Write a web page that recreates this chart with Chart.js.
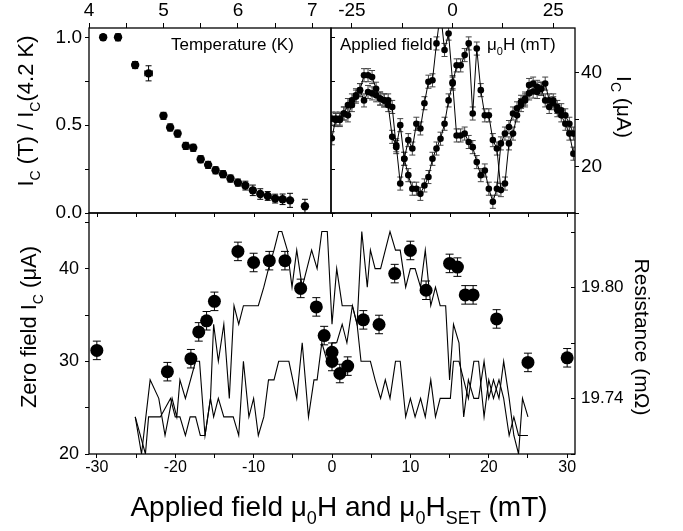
<!DOCTYPE html>
<html>
<head>
<meta charset="utf-8">
<script src="https://cdn.jsdelivr.net/npm/chart.js@4.4.0/dist/chart.umd.min.js"></script>
<style>
  html, body { margin: 0; padding: 0; background: #fff; }
  #wrap { position: relative; width: 683px; height: 531px; overflow: hidden; }
  #wrap canvas { position: absolute; left: 0; top: 0; }
</style>
</head>
<body>
<div id="wrap">
  <canvas id="tempChart" width="683" height="531"></canvas>
  <canvas id="fieldChart" width="683" height="531"></canvas>
  <canvas id="setChart" width="683" height="531"></canvas>
</div>
<script>
// Ic(T) / Ic(4.2 K)
const tempK = [4.19, 4.39, 4.62, 4.80, 5.00, 5.09, 5.19, 5.30, 5.40, 5.50, 5.60, 5.70, 5.80, 5.90, 6.00, 6.10, 6.20, 6.30, 6.40, 6.50, 6.60, 6.70, 6.90];
const icRatio = [1.0, 1.0, 0.842, 0.795, 0.553, 0.487, 0.452, 0.382, 0.371, 0.306, 0.274, 0.243, 0.221, 0.196, 0.173, 0.156, 0.129, 0.108, 0.097, 0.082, 0.078, 0.072, 0.038];
const icRatioErr = [0.015, 0.02, 0.02, 0.043, 0.02, 0.02, 0.02, 0.02, 0.02, 0.02, 0.02, 0.02, 0.02, 0.02, 0.02, 0.025, 0.03, 0.03, 0.025, 0.025, 0.03, 0.04, 0.04];
const tempErr = [0, 0, 0, 0.05, 0, 0, 0, 0, 0, 0, 0, 0, 0, 0, 0, 0, 0, 0, 0, 0, 0, 0, 0];

// Ic vs applied field, two sweep directions
const fieldH = [-30, -29, -28, -27, -26, -25, -24, -23, -22, -21, -20, -19, -18, -17, -16, -15, -14, -13, -12, -11,
  -10, -9, -8, -7, -6, -5, -4, -3, -2, -1, 0, 1, 2, 3, 4, 5, 6, 7, 8, 9,
  10, 11, 12, 13, 14, 15, 16, 17, 18, 19, 20, 21, 22, 23, 24, 25, 26, 27, 28, 29, 30];
const icSweepA = [26.0, 30.2, 29.9, 31.3, 30.9, 33.1, 34.9, 36.3, 34.1, 35.9, 35.6, 35.2, 34.5, 34.1, 33.1, 26.3, 24.5, 16.3, 21.6, 25.6,
  23.8, 29.1, 28.1, 33.5, 38.1, 38.4, 46.3, 53.0, 44.9, 48.4, 38.0, 26.6, 26.6, 27.0, 25.2, 24.1, 20.9, 18.1, 19.1, 15.2,
  12.4, 15.2, 24.9, 27.0, 28.4, 31.3, 32.4, 33.8, 34.5, 35.6, 36.0, 35.9, 36.6, 34.1, 32.7, 33.5, 32.0, 30.9, 29.1, 27.0, 22.7];
const icSweepB = [30.2, 29.9, 30.2, 31.3, 33.1, 34.1, 35.2, 36.3, 39.5, 39.5, 39.1, 36.6, 34.5, 34.1, 34.1, 32.7, 24.1, 28.8, 21.6, 18.1,
  15.2, 15.2, 14.1, 15.9, 17.7, 21.6, 23.8, 25.9, 29.1, 34.1, 37.7, 41.6, 41.6, 43.8, 46.3, 31.3, 45.2, 36.3, 30.9, 30.9,
  25.6, 23.8, 14.9, 16.3, 24.9, 27.0, 30.9, 33.1, 34.1, 37.4, 37.7, 37.0, 36.6, 37.7, 34.1, 34.1, 32.7, 32.0, 30.9, 29.1, 27.0];
const icSweepErr = 1.4;

// zero field Ic after setting H_SET
const setField = [-30, -21, -18, -17, -16, -15, -12, -10, -8, -6, -4, -2, -1, 0, 0, 1, 2, 4, 6, 8, 10, 12, 15, 16, 17, 18, 21, 25, 30];
const zeroIc = [31.2, 28.9, 30.3, 33.2, 34.4, 36.5, 41.9, 40.7, 40.9, 40.9, 37.9, 35.9, 32.8, 31.0, 30.0, 28.7, 29.5, 34.5, 34.0, 39.5, 42.0, 37.7, 40.6, 40.2, 37.2, 37.2, 34.6, 29.9, 30.4];
const zeroIcErr = 1.0;

// resistance traces (mOhm)
const resFieldUp = [-25.1, -24.3, -23.2, -22.1, -21.3, -20.4, -19.8, -19.4, -18.7, -17.4, -16.9, -16.2, -15.5, -15.1, -14.5, -13.8, -13.1, -12.5, -11.9, -11.3,
  -9.4, -8.7, -8.1, -7.4, -6.8, -6.4, -5.7, -5.1, -4.5, -3.8, -3.2, -2.6, -1.9, -1.3, -0.6, 0, 0.6, 1.3, 2.6, 3.2,
  3.8, 4.5, 4.9, 5.5, 6.2, 7.4, 8.1, 8.7, 9.4, 10.0, 10.6, 11.3, 11.9, 12.6, 13.2, 13.8, 14.5, 15.0, 15.5, 16.2,
  16.8, 17.4, 18.1, 18.7, 19.4, 20.0, 20.6, 21.3, 21.9, 22.6, 23.2, 23.8, 24.3, 25.0];
const resUp = [19.73, 19.71, 19.75, 19.74, 19.72, 19.74, 19.73, 19.75, 19.74, 19.76, 19.76, 19.72, 19.74, 19.78, 19.76, 19.78, 19.74, 19.79, 19.78, 19.79,
  19.79, 19.80, 19.81, 19.82, 19.83, 19.83, 19.82, 19.80, 19.82, 19.80, 19.81, 19.82, 19.81, 19.83, 19.83, 19.78, 19.81, 19.79, 19.79, 19.78,
  19.83, 19.80, 19.82, 19.81, 19.81, 19.83, 19.82, 19.82, 19.80, 19.81, 19.81, 19.80, 19.82, 19.79, 19.80, 19.79, 19.79, 19.75, 19.78, 19.77,
  19.73, 19.75, 19.74, 19.74, 19.76, 19.74, 19.75, 19.74, 19.76, 19.74, 19.72, 19.71, 19.74, 19.73];
const resFieldDown = [-25.1, -23.8, -23.4, -21.9, -20.6, -20.0, -19.4, -18.7, -18.1, -17.4, -16.8, -16.2, -15.5, -15.1, -14.5, -13.8, -12.6, -11.9, -11.3, -10.6,
  -10.0, -9.4, -8.7, -8.1, -7.4, -6.8, -5.5, -4.5, -3.8, -3.0, -2.3, -1.9, -1.3, -0.6, 0, 0.6, 1.3, 1.9, 2.6, 3.2,
  3.7, 4.9, 5.5, 6.2, 6.8, 7.4, 8.1, 8.7, 9.4, 10.0, 10.6, 11.3, 11.9, 12.6, 13.2, 13.8, 14.5, 15.1, 15.5, 16.2,
  16.8, 17.4, 18.1, 18.7, 19.4, 20.0, 20.6, 21.3, 21.9, 22.6, 23.2, 23.8, 25.0];
const resDown = [19.73, 19.71, 19.73, 19.73, 19.74, 19.73, 19.73, 19.72, 19.73, 19.73, 19.72, 19.72, 19.74, 19.73, 19.74, 19.73, 19.73, 19.72, 19.76, 19.73,
  19.74, 19.72, 19.73, 19.75, 19.75, 19.76, 19.76, 19.74, 19.77, 19.73, 19.75, 19.75, 19.77, 19.76, 19.77, 19.77, 19.78, 19.77, 19.79, 19.78,
  19.76, 19.76, 19.75, 19.74, 19.75, 19.74, 19.76, 19.76, 19.73, 19.74, 19.73, 19.74, 19.73, 19.75, 19.73, 19.74, 19.74, 19.74, 19.76, 19.76,
  19.75, 19.74, 19.76, 19.76, 19.73, 19.75, 19.74, 19.75, 19.74, 19.72, 19.73, 19.72, 19.72];

// tick positions and their labels
const tempTicks = [4, 4.5, 5, 5.5, 6, 6.5, 7];
const tempLabels = ['4', '', '5', '', '6', '', '7'];
const ratioTicks = [0, 0.25, 0.5, 0.75, 1.0];
const ratioLabels = ['0.0', '', '0.5', '', '1.0'];
const fieldTicks = [-25, -12.5, 0, 12.5, 25];
const fieldLabels = ['-25', '', '0', '', '25'];
const icTicks = [10, 20, 30, 40];
const icLabels = ['', '20', '', '40'];
const setTicks = [-30, -25, -20, -15, -10, -5, 0, 5, 10, 15, 20, 25, 30];
const setLabels = ['-30', '', '-20', '', '-10', '', '0', '', '10', '', '20', '', '30'];
const zeroIcTicks = [20, 25, 30, 35, 40, 45];
const zeroIcLabels = ['20', '', '30', '', '40', ''];
const resTicks = [19.71, 19.74, 19.77, 19.80, 19.83];
const resLabels = ['', '19.74', '', '19.80', ''];

const FONT = '"Liberation Sans", Arial, Helvetica, sans-serif';
Chart.defaults.font.family = FONT;
Chart.defaults.color = '#000';

function pairs(xs, ys) {
  return xs.map((x, i) => ({ x: x, y: ys[i] }));
}

function axis(position, min, max, ticks, labels, size, tickLen, pad, fontSize) {
  return {
    type: 'linear',
    position: position,
    min: min,
    max: max,
    afterBuildTicks: s => { s.ticks = ticks.map(v => ({ value: v })); },
    afterFit: s => { if (s.isHorizontal()) s.height = size; else s.width = size; },
    grid: { drawOnChartArea: false, drawTicks: tickLen > 0, tickLength: tickLen, tickColor: '#000', tickWidth: 1 },
    border: { display: false },
    ticks: { autoSkip: false, maxRotation: 0, padding: pad, color: '#000', font: { size: fontSize },
      callback: (v, i) => labels[i] }
  };
}

// text with subscripts, optionally rotated
function richText(ctx, item) {
  const size = item.size;
  const sub = Math.round(size * 0.65);
  ctx.save();
  ctx.translate(item.x, item.y);
  ctx.rotate((item.angle || 0) * Math.PI / 180);
  ctx.fillStyle = '#000';
  ctx.textBaseline = 'alphabetic';
  ctx.textAlign = 'left';
  const runs = item.parts.map(p => {
    const low = !!p[1];
    ctx.font = (low ? sub : size) + 'px ' + FONT;
    return { text: p[0], low: low, w: ctx.measureText(p[0]).width };
  });
  const total = runs.reduce((s, r) => s + r.w, 0);
  let x = item.align === 'center' ? -total / 2 : 0;
  runs.forEach(r => {
    ctx.font = (r.low ? sub : size) + 'px ' + FONT;
    ctx.fillText(r.text, x, r.low ? size * 0.3 : 0);
    x += r.w;
  });
  ctx.restore();
}

const captions = {
  id: 'captions',
  afterDraw(chart, args, opts) {
    (opts.items || []).forEach(it => richText(chart.ctx, it));
  }
};

// box around the plot area plus mirrored tick marks
const frame = {
  id: 'frame',
  afterDraw(chart, args, opts) {
    const ctx = chart.ctx;
    const a = chart.chartArea;
    ctx.save();
    ctx.strokeStyle = '#000';
    ctx.lineWidth = 1.3;
    ctx.strokeRect(a.left, a.top, a.right - a.left, a.bottom - a.top);
    ctx.lineWidth = 1;
    (opts.marks || []).forEach(m => {
      const scale = chart.scales[m.axis];
      scale.ticks.forEach(t => {
        const p = Math.round(scale.getPixelForValue(t.value)) + 0.5;
        ctx.beginPath();
        if (m.edge === 'top') { ctx.moveTo(p, a.top); ctx.lineTo(p, a.top + m.len); }
        if (m.edge === 'right') { ctx.moveTo(a.right, p); ctx.lineTo(a.right + m.len, p); }
        ctx.stroke();
      });
    });
    ctx.restore();
  }
};

const errorBars = {
  id: 'errorBars',
  beforeDatasetsDraw(chart) {
    const ctx = chart.ctx;
    const a = chart.chartArea;
    ctx.save();
    ctx.beginPath();
    ctx.rect(a.left, a.top, a.right - a.left, a.bottom - a.top);
    ctx.clip();
    chart.data.datasets.forEach((ds, i) => {
      if (ds.errY === undefined) return;
      const meta = chart.getDatasetMeta(i);
      const xs = chart.scales[meta.xAxisID];
      const ys = chart.scales[meta.yAxisID];
      const cap = ds.capW || 3;
      ctx.strokeStyle = ds.errColor || '#000';
      ctx.lineWidth = 1;
      ds.data.forEach((d, j) => {
        const e = Array.isArray(ds.errY) ? ds.errY[j] : ds.errY;
        const px = xs.getPixelForValue(d.x);
        const py = ys.getPixelForValue(d.y);
        const y1 = ys.getPixelForValue(d.y + e);
        const y2 = ys.getPixelForValue(d.y - e);
        ctx.beginPath();
        ctx.moveTo(px, y1); ctx.lineTo(px, y2);
        ctx.moveTo(px - cap, y1); ctx.lineTo(px + cap, y1);
        ctx.moveTo(px - cap, y2); ctx.lineTo(px + cap, y2);
        const ex = ds.errX ? ds.errX[j] : 0;
        if (ex) {
          const x1 = xs.getPixelForValue(d.x - ex);
          const x2 = xs.getPixelForValue(d.x + ex);
          ctx.moveTo(x1, py); ctx.lineTo(x2, py);
          ctx.moveTo(x1, py - cap); ctx.lineTo(x1, py + cap);
          ctx.moveTo(x2, py - cap); ctx.lineTo(x2, py + cap);
        }
        ctx.stroke();
      });
    });
    ctx.restore();
  }
};

const base = {
  responsive: false,
  animation: false,
  devicePixelRatio: 1,
  events: []
};

// top left: temperature dependence
new Chart(document.getElementById('tempChart'), {
  type: 'scatter',
  data: {
    datasets: [{
      data: pairs(tempK, icRatio),
      errY: icRatioErr,
      errX: tempErr,
      capW: 3,
      pointRadius: 4.2,
      pointBackgroundColor: '#000',
      pointBorderWidth: 0
    }]
  },
  options: Object.assign({}, base, {
    layout: { autoPadding: false, padding: { left: 0, top: 0, right: 352, bottom: 318 } },
    scales: {
      x: axis('top', 4.0, 7.25, tempTicks, tempLabels, 28, 5, 1, 19),
      y: axis('left', 0, 1.053, ratioTicks, ratioLabels, 89, 4, 3, 19)
    },
    plugins: {
      legend: { display: false },
      tooltip: { enabled: false },
      frame: { marks: [{ axis: 'y', edge: 'right', len: 4 }] },
      captions: { items: [
        { parts: [['Temperature (K)']], x: 171, y: 50, size: 17 },
        { parts: [['I'], ['C', 1], [' (T) / I'], ['C', 1], ['(4.2 K)']], x: 33, y: 111, size: 22, angle: -90, align: 'center' }
      ] }
    }
  }),
  plugins: [errorBars, frame, captions]
});

// top right: field sweeps
const sweepStyle = {
  showLine: true,
  borderColor: '#000',
  borderWidth: 1,
  pointRadius: 3.3,
  pointBackgroundColor: '#000',
  pointBorderWidth: 0,
  errY: icSweepErr,
  errColor: '#444',
  capW: 3
};
new Chart(document.getElementById('fieldChart'), {
  type: 'scatter',
  data: {
    datasets: [
      Object.assign({ data: pairs(fieldH, icSweepA) }, sweepStyle),
      Object.assign({ data: pairs(fieldH, icSweepB) }, sweepStyle)
    ]
  },
  options: Object.assign({}, base, {
    layout: { autoPadding: false, padding: { left: 331, top: 0, right: 58, bottom: 318 } },
    scales: {
      x: axis('top', -30.2, 30.4, fieldTicks, fieldLabels, 28, 5, 1, 19),
      y: axis('right', 10, 49.6, icTicks, icLabels, 50, 4, 2, 19)
    },
    plugins: {
      legend: { display: false },
      tooltip: { enabled: false },
      captions: { items: [
        { parts: [['Applied field']], x: 340, y: 50, size: 17 },
        { parts: [['\u03bc'], ['0', 1], ['H (mT)']], x: 487, y: 50, size: 17 },
        { parts: [['I'], ['C', 1], [' (\u03bcA)']], x: 617, y: 107, size: 21, angle: 90, align: 'center' }
      ] }
    }
  }),
  plugins: [errorBars, frame, captions]
});

// bottom: zero field Ic and resistance against set field
new Chart(document.getElementById('setChart'), {
  type: 'scatter',
  data: {
    datasets: [
      {
        data: pairs(setField, zeroIc),
        yAxisID: 'y',
        errY: zeroIcErr,
        capW: 4,
        pointRadius: 6.5,
        pointBackgroundColor: '#000',
        pointBorderWidth: 0
      },
      {
        data: pairs(resFieldUp, resUp),
        yAxisID: 'yR',
        showLine: true,
        borderColor: '#000',
        borderWidth: 1.1,
        pointRadius: 0
      },
      {
        data: pairs(resFieldDown, resDown),
        yAxisID: 'yR',
        showLine: true,
        borderColor: '#000',
        borderWidth: 1.1,
        pointRadius: 0
      }
    ]
  },
  options: Object.assign({}, base, {
    layout: { autoPadding: false, padding: { left: 0, top: 213, right: 28, bottom: 47 } },
    scales: {
      x: axis('bottom', -31, 31, setTicks, setLabels, 30, 4, 0, 16),
      y: axis('left', 20, 46.05, zeroIcTicks, zeroIcLabels, 89, 4, 6, 18),
      yR: axis('right', 19.71, 19.84, resTicks, resLabels, 80, 0, 6, 17)
    },
    plugins: {
      legend: { display: false },
      tooltip: { enabled: false },
      frame: { marks: [{ axis: 'x', edge: 'top', len: 4 }, { axis: 'yR', edge: 'right', len: -4 }] },
      captions: { items: [
        { parts: [['Zero field I'], ['C', 1], [' (\u03bcA)']], x: 36, y: 327, size: 22, angle: -90, align: 'center' },
        { parts: [['Resistance (m\u03a9)']], x: 635, y: 337, size: 21, angle: 90, align: 'center' },
        { parts: [['Applied field \u03bc'], ['0', 1], ['H and \u03bc'], ['0', 1], ['H'], ['SET', 1], [' (mT)']], x: 339, y: 516, size: 28, align: 'center' }
      ] }
    }
  }),
  plugins: [errorBars, frame, captions]
});
</script>
</body>
</html>
